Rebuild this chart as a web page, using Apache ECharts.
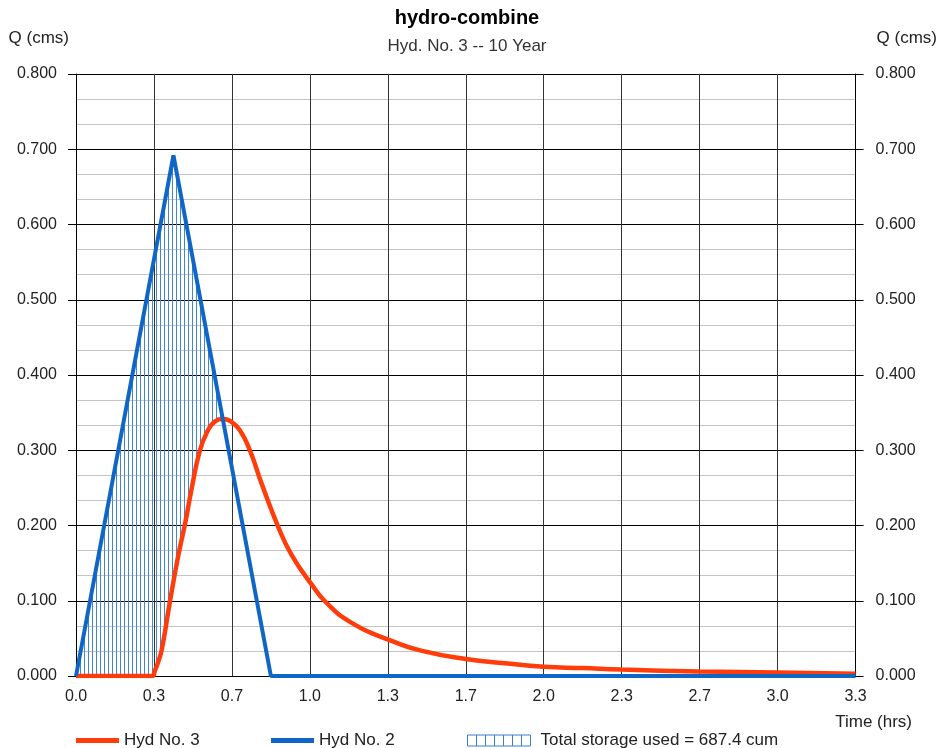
<!DOCTYPE html>
<html>
<head>
<meta charset="utf-8">
<title>hydro-combine</title>
<script src="https://cdn.jsdelivr.net/npm/echarts@6/dist/echarts.min.js"></script>
<style>
  html, body { margin: 0; padding: 0; background: #fff; }
  #chart-container { width: 940px; height: 748px; }
</style>
</head>
<body>
<div id="chart-container"></div>
<script>
// times in minutes, flows in cms
var inflowTime = [0, 25, 50, 200];
var inflowQ = [0, 0.692, 0, 0];

var outflowTime = [0, 19.4, 20.3, 21.1, 22, 24.1, 26.2, 28, 29.6, 31.8, 33.9, 35.6, 37.8, 39.5, 42,
  44.6, 47.6, 51.9, 55.3, 60.4, 64.3, 70.3, 80.3, 90, 100, 110, 120, 130, 140, 160, 180, 200];
var outflowQ = [0, 0, 0.008, 0.019, 0.035, 0.099, 0.159, 0.203, 0.247, 0.300, 0.327, 0.338, 0.3415, 0.339, 0.327,
  0.300, 0.256, 0.198, 0.161, 0.122, 0.097, 0.072, 0.048, 0.032, 0.0226, 0.017, 0.0124, 0.0105, 0.0085, 0.006, 0.0045, 0.003];

var xTickLabels = ['0.0', '0.3', '0.7', '1.0', '1.3', '1.7', '2.0', '2.3', '2.7', '3.0', '3.3'];
var storageLabel = 'Total storage used = 687.4 cum';

var FONT = '"Liberation Sans", Arial, sans-serif';

var dom = document.getElementById('chart-container');
var myChart = echarts.init(dom, null, { renderer: 'canvas' });

var zip = (xs, ys) => xs.map((x, i) => [x, ys[i]]);

var inflowAt = (t) => {
  for (var i = 1; i < inflowTime.length; i++) {
    if (t <= inflowTime[i]) {
      var f = (t - inflowTime[i - 1]) / (inflowTime[i] - inflowTime[i - 1]);
      return inflowQ[i - 1] + f * (inflowQ[i] - inflowQ[i - 1]);
    }
  }
  return inflowQ[inflowQ.length - 1];
};

// outline of the storage area: under inflow, above outflow, until they meet
var storagePolygon = () => {
  var peakT = inflowTime[1];
  var tx = peakT, qx = inflowQ[1];
  for (var k = 1; k < outflowTime.length; k++) {
    if (outflowTime[k] <= peakT) continue;
    var d1 = inflowAt(outflowTime[k]) - outflowQ[k];
    if (d1 <= 0) {
      var d0 = inflowAt(outflowTime[k - 1]) - outflowQ[k - 1];
      var f = d0 / (d0 - d1);
      tx = outflowTime[k - 1] + f * (outflowTime[k] - outflowTime[k - 1]);
      qx = outflowQ[k - 1] + f * (outflowQ[k] - outflowQ[k - 1]);
      break;
    }
  }
  var pts = [];
  inflowTime.forEach((t, i) => { if (t < tx) pts.push([t, inflowQ[i]]); });
  pts.push([tx, qx]);
  for (var j = outflowTime.length - 1; j >= 0; j--) {
    if (outflowTime[j] < tx) pts.push([outflowTime[j], outflowQ[j]]);
  }
  return pts;
};

var hatchCanvas = document.createElement('canvas');
hatchCanvas.width = 4;
hatchCanvas.height = 4;
var hctx = hatchCanvas.getContext('2d');
hctx.fillStyle = '#3f88c9';
hctx.fillRect(0, 0, 1, 4);
var hatchPattern = { image: hatchCanvas, repeat: 'repeat' };

var boxesIcon = 'path://M0,0H63V11H0Z M9,0V11 M18,0V11 M27,0V11 M36,0V11 M45,0V11 M54,0V11';

var labelStyle = { fontFamily: FONT, fontSize: 16, color: '#222' };
var nameStyle = { fontFamily: FONT, fontSize: 17, color: '#222' };

var yAxisBase = {
  type: 'value',
  min: 0,
  max: 0.8,
  interval: 0.1,
  name: 'Q (cms)',
  nameLocation: 'end',
  nameGap: 27,
  axisLine: { show: true, lineStyle: { color: '#000', width: 1 } },
  axisTick: { show: true, length: 8, lineStyle: { color: '#000' } },
  minorTick: { show: false, splitNumber: 3 },
};

var option = {
  animation: false,
  backgroundColor: '#fff',
  title: {
    text: 'hydro-combine',
    subtext: 'Hyd. No. 3 -- 10 Year',
    left: 462,
    textAlign: 'center',
    top: 3,
    itemGap: 10,
    textStyle: { fontFamily: FONT, fontSize: 20, fontWeight: 'bold', color: '#000' },
    subtextStyle: { fontFamily: FONT, fontSize: 17, color: '#333' },
  },
  grid: { left: 76, right: 84, top: 74, bottom: 72, containLabel: false },
  legend: [
    {
      left: 71, top: 727, icon: 'rect', itemWidth: 43, itemHeight: 5,
      selectedMode: false, data: ['Hyd No. 3'], textStyle: nameStyle,
    },
    {
      left: 266, top: 727, icon: 'rect', itemWidth: 43, itemHeight: 5,
      selectedMode: false, data: ['Hyd No. 2'], textStyle: nameStyle,
    },
    {
      left: 462, top: 727, itemWidth: 63, itemHeight: 11,
      selectedMode: false,
      data: [{
        name: storageLabel,
        icon: boxesIcon,
        itemStyle: { color: 'rgba(0,0,0,0)', borderColor: '#3a80c4', borderWidth: 1 },
      }],
      textStyle: Object.assign({ padding: [0, 0, 0, 5] }, nameStyle),
    },
  ],
  graphic: [
    {
      type: 'text', right: 28, top: 714,
      style: { text: 'Time (hrs)', font: '17px ' + FONT, fill: '#222' },
    },
  ],
  xAxis: {
    type: 'value',
    min: 0,
    max: 200,
    interval: 20,
    axisLine: { show: true, onZero: false, lineStyle: { color: '#000', width: 1 } },
    axisTick: { show: false },
    axisLabel: Object.assign({ margin: 13, formatter: (v) => xTickLabels[Math.round(v / 20)] }, labelStyle),
    splitLine: { show: true, lineStyle: { color: '#333', width: 1 } },
  },
  yAxis: [
    Object.assign({}, yAxisBase, {
      position: 'left',
      nameTextStyle: Object.assign({ align: 'right', padding: [0, 7, 0, 0] }, nameStyle),
      axisLabel: Object.assign({ margin: 19, formatter: (v) => v.toFixed(3) }, labelStyle),
      splitLine: { show: true, lineStyle: { color: '#000', width: 1 } },
      minorSplitLine: { show: true, lineStyle: { color: '#c4c4c4', width: 1 } },
    }),
    Object.assign({}, yAxisBase, {
      position: 'right',
      nameTextStyle: Object.assign({ align: 'left', padding: [0, 0, 0, 21] }, nameStyle),
      axisLabel: Object.assign({ margin: 20, formatter: (v) => v.toFixed(3) }, labelStyle),
      splitLine: { show: false },
      minorSplitLine: { show: false },
    }),
  ],
  series: [
    {
      name: storageLabel,
      type: 'custom',
      z: 1,
      silent: true,
      itemStyle: { color: '#3f88c9' },
      data: [[0, 0]],
      renderItem: (params, api) => {
        var pts = storagePolygon().map((p) => api.coord(p));
        return {
          type: 'polygon',
          shape: { points: pts },
          style: { fill: hatchPattern, stroke: null },
        };
      },
    },
    {
      name: 'Hyd No. 3',
      type: 'line',
      z: 3,
      data: zip(outflowTime, outflowQ),
      symbol: 'none',
      smooth: 0.5,
      color: '#ff3c0a',
      lineStyle: { width: 4.5, color: '#ff3c0a' },
    },
    {
      name: 'Hyd No. 2',
      type: 'line',
      z: 4,
      data: zip(inflowTime, inflowQ),
      symbol: 'none',
      color: '#0f66c6',
      lineStyle: { width: 4, color: '#0f66c6' },
    },
  ],
};

myChart.setOption(option);
window.addEventListener('resize', myChart.resize);
</script>
</body>
</html>
